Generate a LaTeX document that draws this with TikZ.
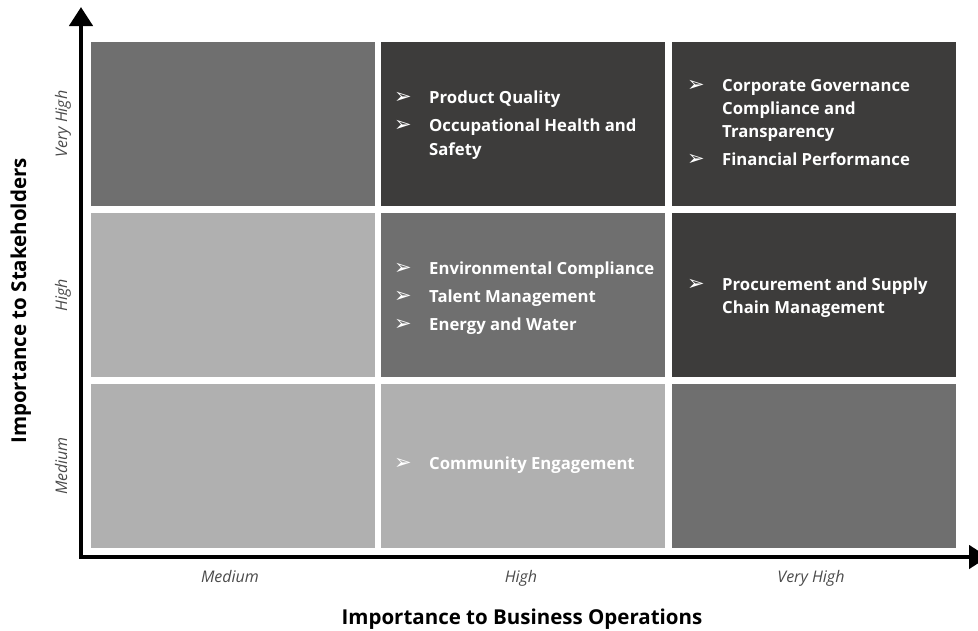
\documentclass[tikz,border=0pt]{standalone}
\usepackage{fontspec}
\setmainfont{Open Sans}
\newfontfamily\arrfont{DejaVu Sans}
\usetikzlibrary{arrows.meta}
\definecolor{cdark}{HTML}{3D3C3B}
\definecolor{cmid}{HTML}{6F6F6F}
\definecolor{clight}{HTML}{B0B0B0}
\definecolor{ctick}{HTML}{4A4A4A}
\begin{document}
\begin{tikzpicture}[x=1pt,y=-1pt,
  cell/.style={anchor=north west, minimum width=284pt, minimum height=164pt, inner sep=0, draw=none},
  itm/.style={anchor=base west, text=white, inner sep=0, font=\bfseries\fontsize{16.7}{19}\selectfont},
  bul/.style={anchor=base west, text=white, inner sep=0, font=\arrfont\fontsize{21}{24}\selectfont},
  tick/.style={anchor=base, text=ctick, inner sep=0, font=\itshape\fontsize{16}{18}\selectfont},
  ttl/.style={anchor=base, text=black, inner sep=0, font=\bfseries\fontsize{20.5}{23}\selectfont},
  axis/.style={line width=4.5pt, line join=miter, {Triangle[width=23pt,length=19pt]}-{Triangle[width=23pt,length=19pt]}}]
\useasboundingbox (0,0) rectangle (978,630);
% cells
\node[cell, fill=cmid]   (c11) at (91,42)  {};
\node[cell, fill=cdark]  (c12) at (381,42) {};
\node[cell, fill=cdark]  (c13) at (672,42) {};
\node[cell, fill=clight] (c21) at (91,213)  {};
\node[cell, fill=cmid]   (c22) at (381,213) {};
\node[cell, fill=cdark]  (c23) at (672,213) {};
\node[cell, fill=clight] (c31) at (91,384)  {};
\node[cell, fill=clight] (c32) at (381,384) {};
\node[cell, fill=cmid]   (c33) at (672,384) {};
% axes
\coordinate (o) at (81,557);
\coordinate (ytip) at (81,7);
\coordinate (xtip) at (988,557);
\draw[axis] (ytip) -- (o) -- (xtip);
% row 1 col 2
\node[bul] (b1) at (394,103) {➢};
\node[itm] (t1) at (429,103) {Product Quality};
\node[bul] (b2) at (394,131) {➢};
\node[itm] (t2) at (429,131) {Occupational Health and};
\node[itm] (t3) at (429,155) {Safety};
% row 1 col 3
\node[bul] (b3) at (687,91) {➢};
\node[itm] (t4) at (722,91) {Corporate Governance};
\node[itm] (t5) at (722,114) {Compliance and};
\node[itm] (t6) at (722,137) {Transparency};
\node[bul] (b4) at (687,165) {➢};
\node[itm] (t7) at (722,165) {Financial Performance};
% row 2 col 2
\node[bul] (b5) at (394,274) {➢};
\node[itm] (t8) at (429,274) {Environmental Compliance};
\node[bul] (b6) at (394,302) {➢};
\node[itm] (t9) at (429,302) {Talent Management};
\node[bul] (b7) at (394,330) {➢};
\node[itm] (t10) at (429,330) {Energy and Water};
% row 2 col 3
\node[bul] (b8) at (687,290) {➢};
\node[itm] (t11) at (722,290) {Procurement and Supply};
\node[itm] (t12) at (722,313) {Chain Management};
% row 3 col 2
\node[bul] (b9) at (394,469) {➢};
\node[itm] (t13) at (429,469) {Community Engagement};
% tick labels
\node[tick] (x1) at (230,582) {Medium};
\node[tick] (x2) at (521,582) {High};
\node[tick] (x3) at (811,582) {Very High};
\node[tick, rotate=90] (y1) at (67,124) {Very High};
\node[tick, rotate=90] (y2) at (67,295) {High};
\node[tick, rotate=90] (y3) at (67,466) {Medium};
% titles
\node[ttl] (xt) at (522,624) {Importance to Business Operations};
\node[ttl, rotate=90] (yt) at (26,301) {Importance to Stakeholders};
\end{tikzpicture}
\end{document}
